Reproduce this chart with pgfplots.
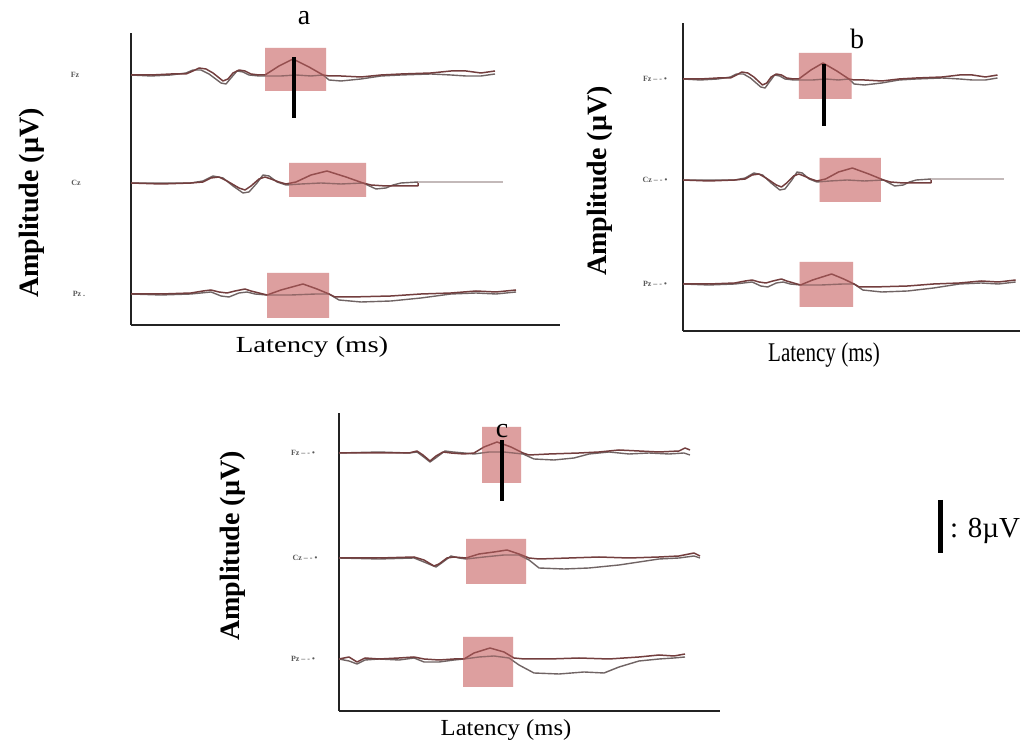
\documentclass[border=0pt]{standalone}
\usepackage{fontspec}
\setmainfont{Liberation Serif}
\usepackage{graphicx}
\usepackage{pgfplots}
\usepackage{pgfplotstable}
\pgfplotsset{compat=1.18}

\definecolor{trA}{RGB}{115,62,62}
\definecolor{trB}{RGB}{112,100,100}
\definecolor{trC}{RGB}{195,185,185}
\definecolor{boxc}{RGB}{205,140,140}
\definecolor{axc}{RGB}{35,35,35}

% ---- panel a / b traces (x: px from y axis in panel a, y: px from baseline)
\pgfplotstableread{
x y
0 0
20 0
40 1
55 1
62 4
68 7
75 6
82 2
92 -6
97 -4
102 2
108 5
114 4
120 1
128 0
134 0
148 9
162 16
178 8
192 0
198 -1
210 -1
230 -2
250 0
270 1
300 2
320 4
335 4
350 2
364 4
}\FzA
\pgfplotstableread{
x y
0 0
20 -1
40 0
55 2
62 5
70 5
78 1
90 -8
95 -9
100 -3
106 4
112 3
118 0
128 -1
134 -1
150 -1
165 0
180 -1
192 0
198 -5
210 -6
230 -4
250 -1
270 0
300 1
320 0
335 -1
350 -1
364 1
}\FzB
\pgfplotstableread{
x y
0 0
30 -1
60 0
72 1
80 5
88 6
96 2
108 -5
114 -7
120 -3
128 4
134 6
140 4
148 1
155 -1
165 1
180 8
196 12
215 6
232 0
240 -2
255 -3
270 -3
287 -3
287 1
}\CzA
\pgfplotstableread{
x y
0 0
30 0
60 0
72 2
82 7
92 5
102 -3
112 -10
118 -9
126 0
132 8
138 7
146 1
155 -2
170 -1
190 0
210 -1
232 0
245 -6
255 -5
262 -2
270 0
287 1
}\CzB
\pgfplotstableread{
x y
287 1
372 1
}\CzFlat
\pgfplotstableread{
x y
0 0
30 0
60 1
72 3
80 4
88 2
96 1
104 3
114 5
120 3
128 1
136 -1
150 4
172 10
186 5
198 0
204 -3
220 -3
260 -2
290 0
320 1
345 3
365 2
385 4
}\PzA
\pgfplotstableread{
x y
0 0
30 -1
60 0
70 1
80 2
90 -2
98 -3
108 1
116 2
124 0
136 -1
160 -1
185 0
198 0
208 -6
230 -8
260 -7
290 -4
320 0
345 1
365 0
385 2
}\PzB
% ---- panel c traces
\pgfplotstableread{
x y
0 0
40 0
70 0
78 2
84 -2
91 -8
97 -3
104 1
112 0
125 -1
135 0
145 6
158 11
172 6
184 0
190 -2
210 -1
240 0
260 1
280 3
300 2
320 1
340 2
346 5
351 3
}\cFzA
\pgfplotstableread{
x y
0 0
40 1
70 0
78 1
86 -5
91 -9
98 -4
106 2
114 1
125 0
135 -1
150 1
165 1
184 -1
195 -6
215 -7
235 -5
250 -1
270 1
290 -1
310 0
330 -1
345 0
351 -2
}\cFzB
\pgfplotstableread{
x y
0 0
40 0
75 1
85 -2
95 -8
100 -6
108 0
115 1
127 0
140 4
155 6
168 8
180 4
190 0
200 -1
230 0
260 1
290 0
320 1
340 2
355 5
361 2
}\cCzA
\pgfplotstableread{
x y
0 0
40 -1
75 0
85 -4
97 -9
104 -4
112 2
120 0
127 -1
145 1
165 3
180 3
190 -2
200 -10
225 -11
250 -10
280 -7
300 -4
320 -1
340 0
355 2
361 0
}\cCzB
\pgfplotstableread{
x y
0 0
10 2
18 -3
26 1
40 0
60 1
75 2
85 0
100 -1
115 0
125 0
135 6
151 11
165 7
175 1
185 0
210 0
240 1
270 0
300 2
320 4
335 3
346 5
}\cPzA
\pgfplotstableread{
x y
0 0
10 -2
18 -5
26 -1
40 0
60 -1
75 1
85 -3
100 -3
115 -1
125 0
140 2
155 3
170 1
180 -6
195 -14
220 -15
245 -13
265 -14
280 -8
300 -2
320 0
335 1
346 2
}\cPzB

\pgfplotsset{
  erp/.style={scale only axis, axis lines=left,
    axis line style={-, axc, line width=1.6pt},
    ticks=none, xmin=0, ymin=0, clip=false, anchor=south west},
  tA/.style={trA, line width=1.5pt, line join=round},
  tB/.style={trB, line width=1.4pt, line join=round},
  bx/.style={draw=none, fill=boxc, fill opacity=0.6},
  bxt/.style={draw=none, fill=boxc!80!red, fill opacity=0.35},
  sc/.style={black, line width=4pt},
}
\newcommand{\ebox}[4]{\addplot[bx] coordinates {(#1,#2) (#3,#2) (#3,#4) (#1,#4) (#1,#2)};}
\newcommand{\tbox}[4]{\addplot[bxt] coordinates {(#1,#2) (#3,#2) (#3,#4) (#1,#4) (#1,#2)};}
\newcommand{\trace}[3]{%
  \addplot[tB] table[x=x, y expr=\thisrow{y}+#3] {#2};
  \addplot[tA] table[x=x, y expr=\thisrow{y}+#3] {#1};}

\newcommand{\amp}{\fontsize{28}{30}\selectfont\bfseries Amplitude (µV)}

\begin{document}
\begin{tikzpicture}[x=1pt,y=1pt]
\useasboundingbox (0,0) rectangle (1034,744);

% ================= panel a
\begin{axis}[erp, at={(131pt,419pt)}, width=429pt, height=292pt, xmax=429, ymax=292]
\ebox{134}{234}{195}{277}
\ebox{158}{128}{235}{162}
\ebox{136}{7}{198}{52}
\trace{\FzA}{\FzB}{250}
\trace{\CzA}{\CzB}{142}
\addplot[trC, line width=1.2pt] table[x=x, y expr=\thisrow{y}+142] {\CzFlat};
\trace{\PzA}{\PzB}{31}
\tbox{134}{234}{195}{277}
\tbox{158}{128}{235}{162}
\tbox{136}{7}{198}{52}
\addplot[sc] coordinates {(163,207) (163,268)};
\end{axis}

% ================= panel b
\begin{axis}[erp, at={(683pt,413pt)}, width=337pt, height=308pt, xmax=390, ymax=308]
\ebox{134}{232}{195}{278}
\ebox{158}{129}{229}{173}
\ebox{135}{24}{197}{69}
\trace{\FzA}{\FzB}{252}
\trace{\CzA}{\CzB}{151}
\addplot[trC, line width=1.2pt] table[x=x, y expr=\thisrow{y}+151] {\CzFlat};
\trace{\PzA}{\PzB}{47}
\tbox{134}{232}{195}{278}
\tbox{158}{129}{229}{173}
\tbox{135}{24}{197}{69}
\addplot[sc] coordinates {(163,205) (163,267)};
\end{axis}

% ================= panel c
\begin{axis}[erp, at={(339pt,33pt)}, width=381pt, height=298pt, xmax=381, ymax=298]
\ebox{143}{228}{182}{284}
\ebox{127}{127}{187}{172}
\ebox{124}{24}{174}{74}
\trace{\cFzA}{\cFzB}{258}
\trace{\cCzA}{\cCzB}{153}
\trace{\cPzA}{\cPzB}{52}
\tbox{143}{228}{182}{284}
\tbox{127}{127}{187}{172}
\tbox{124}{24}{174}{74}
\addplot[sc] coordinates {(163,210) (163,271)};
\end{axis}

% ---- labels
\node[rotate=90] at (32,541) {\amp};
\node[rotate=90] at (600,563) {\amp};
\node[rotate=90] at (233,198) {\amp};

\node at (312,397) {\scalebox{1.25}[1]{\fontsize{23}{25}\selectfont Latency (ms)}};
\node at (824,389) {\scalebox{0.78}[1]{\fontsize{27}{29}\selectfont Latency (ms)}};
\node at (506,14) {\scalebox{1.07}[1]{\fontsize{23}{25}\selectfont Latency (ms)}};

\node at (304,726) {\fontsize{28}{30}\selectfont a};
\node at (857,705) {\fontsize{28}{30}\selectfont b};
\node at (502,313) {\fontsize{28}{30}\selectfont c};

% channel labels
\begingroup
\tikzset{ch/.style={text=gray!70!black, font=\fontsize{8}{9}\selectfont\bfseries}}
\node[ch] at (75,669) {Fz};
\node[ch] at (76,561) {Cz};
\node[ch] at (79,450) {Pz .};
\node[ch] at (655,665) {Fz -- - •};
\node[ch] at (655,564) {Cz -- - •};
\node[ch] at (655,460) {Pz -- - •};
\node[ch] at (303,291) {Fz -- - •};
\node[ch] at (305,186) {Cz -- - •};
\node[ch] at (303,85) {Pz -- - •};
\endgroup

% scale legend
\draw[black, line width=5pt] (940,244) -- (940,191);
\node[anchor=base west, inner sep=0pt] at (950,206) {\fontsize{29}{31}\selectfont : 8µV};
\end{tikzpicture}
\end{document}
